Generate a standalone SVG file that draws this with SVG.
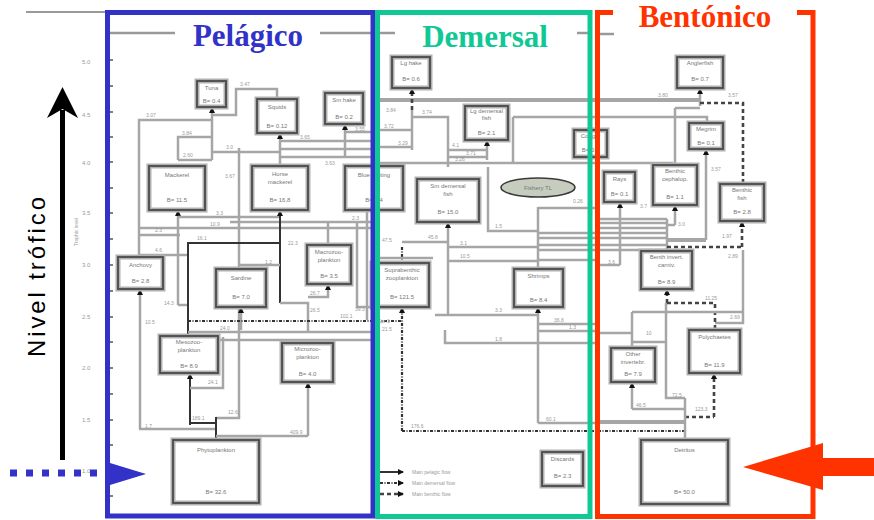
<svg xmlns="http://www.w3.org/2000/svg" width="874" height="520" viewBox="0 0 874 520">
<defs>
<marker id="ah" viewBox="0 0 6 6" refX="5" refY="3" markerWidth="6" markerHeight="6" orient="auto" markerUnits="userSpaceOnUse"><path d="M0,0 L6,3 L0,6 z" fill="#111"/></marker>
<style>
.c{fill:none;stroke:#a6a6a6;stroke-width:2.5}
.cb{fill:none;stroke:#a6a6a6;stroke-width:4}
.k{fill:none;stroke:#333;stroke-width:2}
.d{fill:none;stroke:#444;stroke-width:2.6;stroke-dasharray:4 3}
.dt{fill:none;stroke:#333;stroke-width:2.2;stroke-dasharray:3 1.5 1 1.5}
.lb{font-family:"Liberation Sans",Arial,sans-serif;font-size:5px;fill:#9a9a9a}
.h{fill:#fff;stroke:#b0b0b0;stroke-width:5}
.b{fill:none;stroke:#4a4a4a;stroke-width:1.8}
.t{font-family:"Liberation Sans",Arial,sans-serif;font-size:6px;fill:#777;text-anchor:middle}
.ax{font-family:"Liberation Sans",Arial,sans-serif;font-size:6px;fill:#9a9a9a}
.ttl{font-family:"Liberation Serif","Times New Roman",serif;font-weight:bold;font-size:31px;text-anchor:middle}
</style>
</defs>
<rect width="874" height="520" fill="#fff"/>

<!-- axis -->
<g id="axis">
<line x1="26" y1="12" x2="106" y2="12" stroke="#999" stroke-width="2"/>
<text class="ax" x="82" y="64">5.0</text>
<text class="ax" x="82" y="117">4.5</text>
<text class="ax" x="82" y="165">4.0</text>
<text class="ax" x="82" y="215">3.5</text>
<text class="ax" x="82" y="267">3.0</text>
<text class="ax" x="82" y="319">2.5</text>
<text class="ax" x="82" y="370">2.0</text>
<text class="ax" x="82" y="422">1.5</text>
<text class="ax" x="82" y="473">1.0</text>
<text transform="translate(78,232) rotate(-90)" font-family="Liberation Sans, Arial, sans-serif" font-size="5" fill="#999" text-anchor="middle">Trophic level</text>
<g stroke="#555" stroke-width="1.5">
<line x1="110" y1="60" x2="113" y2="60"/><line x1="110" y1="86" x2="113" y2="86"/><line x1="110" y1="112" x2="113" y2="112"/><line x1="110" y1="137" x2="113" y2="137"/><line x1="110" y1="162" x2="113" y2="162"/><line x1="110" y1="188" x2="113" y2="188"/><line x1="110" y1="213" x2="113" y2="213"/><line x1="110" y1="239" x2="113" y2="239"/><line x1="110" y1="265" x2="113" y2="265"/><line x1="110" y1="291" x2="113" y2="291"/><line x1="110" y1="317" x2="113" y2="317"/><line x1="110" y1="342" x2="113" y2="342"/><line x1="110" y1="368" x2="113" y2="368"/><line x1="110" y1="394" x2="113" y2="394"/><line x1="110" y1="420" x2="113" y2="420"/><line x1="110" y1="445" x2="113" y2="445"/><line x1="110" y1="471" x2="113" y2="471"/><line x1="110" y1="496" x2="113" y2="496"/>
</g>
</g>

<!-- connectors -->
<g id="connectors">
<!-- pelagic -->
<path class="c" d="M139,258 V120 H212"/>
<path class="c" d="M212,160 V108" marker-end="url(#ah)"/>
<path class="c" d="M178,160 V137 H212 M178,160 H212"/>
<path class="c" d="M213,115 H236 V89 H277 V99"/>
<path class="c" d="M213,152 H280"/>
<path class="c" d="M280,165 V134" marker-end="url(#ah)"/>
<path class="c" d="M280,141 H373 M280,149 H373 M280,157 H373"/>
<path class="c" d="M345,157 V125" marker-end="url(#ah)"/>
<path class="c" d="M345,132 H373"/>
<path class="c" d="M239,148 V418 H216"/>
<path class="c" d="M178,305 V211" marker-end="url(#ah)"/>
<path class="c" d="M178,305 H188"/>
<path class="c" d="M178,217 H280"/>
<path class="c" d="M230,222 H373"/>
<path class="c" d="M140,228 H373"/>
<path class="c" d="M140,235 H180"/>
<path class="k" d="M188,336 V243 H280"/>
<path class="k" d="M280,303 V211" marker-end="url(#ah)"/>
<path class="c" d="M140,255 H187"/>
<path class="c" d="M240,265 H280"/>
<path class="c" d="M280,303 H308 V333"/>
<path class="c" d="M328,222 V245"/>
<path class="c" d="M308,297 H328 V285" marker-end="url(#ah)"/>
<path class="c" d="M357,222 V307 H373"/>
<path class="c" d="M367,165 V320"/>
<path class="c" d="M140,429 V290" marker-end="url(#ah)"/>
<path class="c" d="M241,330 V308" marker-end="url(#ah)"/>
<path class="dt" d="M188,321 H402"/>
<path class="c" d="M188,332 H373"/>
<path class="c" d="M216,340 H373"/>
<path class="k" d="M190,425 V374" marker-end="url(#ah)"/>
<path class="k" d="M190,423 H216"/>
<path class="c" d="M190,388 H223 V337"/>
<path class="c" d="M139,429 H216"/>
<path class="k" d="M216,440 V417"/>
<path class="c" d="M216,436 H308"/>
<path class="c" d="M308,436 V383" marker-end="url(#ah)"/>
<!-- demersal -->
<path class="cb" d="M378,100 H700"/>
<path class="c" d="M700,106 V89" marker-end="url(#ah)"/>
<path class="c" d="M412,150 V110"/>
<path class="d" d="M412,110 V89" marker-end="url(#ah)"/>
<path class="c" d="M412,117 H448 V167"/>
<path class="c" d="M378,130 H412 M378,147 H412"/>
<path class="c" d="M448,150 H487 M448,157 H487"/>
<path class="c" d="M487,160 V141" marker-end="url(#ah)"/>
<path class="c" d="M378,163 H600"/>
<path class="c" d="M513,117 H600 M513,117 V163"/>
<path class="c" d="M488,167 V231 H538"/>
<path class="c" d="M538,207 V268"/>
<path class="c" d="M538,208 H600"/>
<path class="c" d="M538,233 H667 M538,238 H667 M538,245 H667 M538,250 H667 M538,260 H600"/>
<path class="dt" d="M402,247 V262"/>
<path class="c" d="M402,242 H448"/>
<path class="c" d="M380,258 H433"/>
<path class="c" d="M448,315 V223" marker-end="url(#ah)"/>
<path class="c" d="M448,247 H538 M448,261 H538"/>
<path class="c" d="M435,315 H538"/>
<path class="c" d="M538,423 V308" marker-end="url(#ah)"/>
<path class="c" d="M538,324 H600 M538,331 H600"/>
<path class="c" d="M445,330 V343 H600"/>
<path class="c" d="M538,423 H600"/>
<path class="dt" d="M402,431 V308" marker-end="url(#ah)"/>
<path class="dt" d="M402,431 H685"/>
<!-- benthic -->
<path class="d" d="M700,103 H743 V184"/>
<path class="c" d="M675,108 H700 M675,108 V165"/>
<path class="c" d="M600,117 H707 V123"/>
<path class="c" d="M706,240 V150" marker-end="url(#ah)"/>
<path class="c" d="M600,163 H673"/>
<path class="c" d="M620,265 V203" marker-end="url(#ah)"/>
<path class="c" d="M600,265 H620"/>
<path class="c" d="M675,225 V206" marker-end="url(#ah)"/>
<path class="c" d="M667,225 H675"/>
<path class="c" d="M600,219 H667 M600,223 H667 M600,228 H667 M667,219 V250"/>
<path class="cb" d="M667,240 H706"/>
<path class="d" d="M742,247 V222" marker-end="url(#ah)"/>
<path class="d" d="M667,247 H742"/>
<path class="c" d="M743,250 V323 H715"/>
<path class="c" d="M666,303 V398 H685"/>
<path class="d" d="M667,303 V290" marker-end="url(#ah)"/>
<path class="d" d="M667,303 H715 V330"/>
<path class="c" d="M632,312 H743"/>
<path class="c" d="M632,312 V348"/>
<path class="c" d="M600,333 H632 M632,342 H666"/>
<path class="c" d="M632,409 V383" marker-end="url(#ah)"/>
<path class="c" d="M632,409 H685"/>
<path class="d" d="M714,417 V374" marker-end="url(#ah)"/>
<path class="d" d="M685,417 H714"/>
<path class="cb" d="M600,422 H685"/>
<path class="c" d="M685,440 V398"/>
<!-- legend -->
<path class="k" d="M380,472 H403" marker-end="url(#ah)"/>
<path class="dt" d="M380,483 H403" marker-end="url(#ah)"/>
<path class="d" d="M380,494 H403" marker-end="url(#ah)"/>
</g>

<!-- flow labels -->
<g id="labels">
<text class="lb" x="146" y="117">3.07</text>
<text class="lb" x="182" y="135">3.84</text>
<text class="lb" x="183" y="157">2.60</text>
<text class="lb" x="240" y="86">3.47</text>
<text class="lb" x="226" y="149">3.0</text>
<text class="lb" x="300" y="139">3.65</text>
<text class="lb" x="325" y="165">3.63</text>
<text class="lb" x="355" y="131">3.55</text>
<text class="lb" x="225" y="178">3.67</text>
<text class="lb" x="216" y="215">3.3</text>
<text class="lb" x="210" y="226">10.9</text>
<text class="lb" x="155" y="232">2.3</text>
<text class="lb" x="352" y="220">2.3</text>
<text class="lb" x="197" y="240">16.1</text>
<text class="lb" x="288" y="245">22.3</text>
<text class="lb" x="155" y="252">4.6</text>
<text class="lb" x="265" y="264">1.2</text>
<text class="lb" x="164" y="305">14.3</text>
<text class="lb" x="310" y="295">26.7</text>
<text class="lb" x="310" y="312">26.5</text>
<text class="lb" x="355" y="311">39.3</text>
<text class="lb" x="340" y="318">102.1</text>
<text class="lb" x="145" y="324">10.5</text>
<text class="lb" x="220" y="330">24.0</text>
<text class="lb" x="208" y="384">24.1</text>
<text class="lb" x="228" y="414">12.6</text>
<text class="lb" x="192" y="420">189.1</text>
<text class="lb" x="145" y="428">1.7</text>
<text class="lb" x="290" y="434">409.9</text>
<text class="lb" x="386" y="112">3.84</text>
<text class="lb" x="422" y="114">3.74</text>
<text class="lb" x="384" y="128">3.72</text>
<text class="lb" x="398" y="145">3.29</text>
<text class="lb" x="452" y="147">4.1</text>
<text class="lb" x="466" y="155">3.71</text>
<text class="lb" x="455" y="161">3.26</text>
<text class="lb" x="573" y="203">0.26</text>
<text class="lb" x="495" y="228">1.5</text>
<text class="lb" x="428" y="239">45.8</text>
<text class="lb" x="382" y="242">47.5</text>
<text class="lb" x="460" y="245">3.1</text>
<text class="lb" x="460" y="258">10.5</text>
<text class="lb" x="495" y="312">3.3</text>
<text class="lb" x="554" y="322">36.8</text>
<text class="lb" x="569" y="329">1.3</text>
<text class="lb" x="378" y="323">Spr.1</text>
<text class="lb" x="382" y="331">21.5</text>
<text class="lb" x="495" y="341">1.8</text>
<text class="lb" x="546" y="421">60.1</text>
<text class="lb" x="411" y="428">176.6</text>
<text class="lb" x="658" y="97">3.80</text>
<text class="lb" x="728" y="97">3.57</text>
<text class="lb" x="711" y="171">3.57</text>
<text class="lb" x="640" y="208">3.7</text>
<text class="lb" x="678" y="226">3.0</text>
<text class="lb" x="722" y="238">1.97</text>
<text class="lb" x="728" y="258">2.89</text>
<text class="lb" x="608" y="264">3.6</text>
<text class="lb" x="705" y="300">11.25</text>
<text class="lb" x="730" y="319">2.69</text>
<text class="lb" x="646" y="335">10</text>
<text class="lb" x="672" y="397">72.5</text>
<text class="lb" x="636" y="407">46.5</text>
<text class="lb" x="695" y="411">123.3</text>
<text class="lb" x="412" y="474">Main pelagic flow</text>
<text class="lb" x="412" y="485">Main demersal flow</text>
<text class="lb" x="412" y="496">Main benthic flow</text>
</g>

<!-- nodes -->
<g id="tuna"><rect class="h" x="197" y="81" width="29" height="26"/><rect class="b" x="197" y="81" width="29" height="26"/><text class="t" x="211.5" y="90">Tuna</text><text class="t" x="211.5" y="103">B= 0.4</text></g>
<g id="squids"><rect class="h" x="257" y="99" width="40" height="34"/><rect class="b" x="257" y="99" width="40" height="34"/><text class="t" x="277" y="109">Squids</text><text class="t" x="277" y="128">B= 0.12</text></g>
<g id="sm-hake"><rect class="h" x="325" y="93" width="38" height="31"/><rect class="b" x="325" y="93" width="38" height="31"/><text class="t" x="344" y="102">Sm hake</text><text class="t" x="344" y="119">B= 0.2</text></g>
<g id="mackerel"><rect class="h" x="149" y="166" width="56" height="44"/><rect class="b" x="149" y="166" width="56" height="44"/><text class="t" x="177" y="177">Mackerel</text><text class="t" x="177" y="202">B= 11.5</text></g>
<g id="horse-mackerel"><rect class="h" x="252" y="166" width="56" height="44"/><rect class="b" x="252" y="166" width="56" height="44"/><text class="t" x="280" y="176">Horse</text><text class="t" x="280" y="184">mackerel</text><text class="t" x="280" y="202">B= 16.8</text></g>
<g id="blue-whiting"><rect class="h" x="345" y="166" width="58" height="44"/><rect class="b" x="345" y="166" width="58" height="44"/><text class="t" x="374" y="177">Blue whiting</text><text class="t" x="374" y="202">B= 4.4</text></g>
<g id="anchovy"><rect class="h" x="118" y="257" width="45" height="32"/><rect class="b" x="118" y="257" width="45" height="32"/><text class="t" x="140.5" y="267">Anchovy</text><text class="t" x="140.5" y="283">B= 2.8</text></g>
<g id="sardine"><rect class="h" x="216" y="269" width="50" height="38"/><rect class="b" x="216" y="269" width="50" height="38"/><text class="t" x="241" y="280">Sardine</text><text class="t" x="241" y="299">B= 7.0</text></g>
<g id="macrozooplankton"><rect class="h" x="307" y="245" width="44" height="39"/><rect class="b" x="307" y="245" width="44" height="39"/><text class="t" x="329" y="254">Macrozoo-</text><text class="t" x="329" y="262">plankton</text><text class="t" x="329" y="278">B= 3.5</text></g>
<g id="mesozooplankton"><rect class="h" x="160" y="336" width="58" height="37"/><rect class="b" x="160" y="336" width="58" height="37"/><text class="t" x="189" y="344">Mesozoo-</text><text class="t" x="189" y="352">plankton</text><text class="t" x="189" y="368">B= 8.9</text></g>
<g id="microzooplankton"><rect class="h" x="282" y="343" width="51" height="39"/><rect class="b" x="282" y="343" width="51" height="39"/><text class="t" x="307.5" y="351">Microzoo-</text><text class="t" x="307.5" y="359">plankton</text><text class="t" x="307.5" y="376">B= 4.0</text></g>
<g id="phytoplankton"><rect class="h" x="173" y="440" width="86" height="63"/><rect class="b" x="173" y="440" width="86" height="63"/><text class="t" x="216" y="452">Phytoplankton</text><text class="t" x="216" y="494">B= 32.6</text></g>
<g id="lg-hake"><rect class="h" x="392" y="57" width="38" height="31"/><rect class="b" x="392" y="57" width="38" height="31"/><text class="t" x="411" y="65">Lg hake</text><text class="t" x="411" y="81">B= 0.6</text></g>
<g id="lg-demersal-fish"><rect class="h" x="465" y="106" width="43" height="34"/><rect class="b" x="465" y="106" width="43" height="34"/><text class="t" x="486.5" y="113">Lg demersal</text><text class="t" x="486.5" y="120">fish</text><text class="t" x="486.5" y="135">B= 2.1</text></g>
<g id="conger"><rect class="h" x="574" y="130" width="33" height="27"/><rect class="b" x="574" y="130" width="33" height="27"/><text class="t" x="590.5" y="138">Conger</text><text class="t" x="590.5" y="152">B= 0.2</text></g>
<g id="sm-demersal-fish"><rect class="h" x="417" y="179" width="62" height="43"/><rect class="b" x="417" y="179" width="62" height="43"/><text class="t" x="448" y="188">Sm demersal</text><text class="t" x="448" y="196">fish</text><text class="t" x="448" y="214">B= 15.0</text></g>
<g id="fishery-tl"><ellipse cx="538" cy="187.5" rx="37" ry="9.5" fill="#c6cdbf" stroke="#3a3a3a" stroke-width="1.6"/><text class="t" x="538" y="190" font-size="7" fill="#555">Fishery TL</text></g>
<g id="suprabenthic-zooplankton"><rect class="h" x="372" y="263" width="57" height="44"/><rect class="b" x="372" y="263" width="57" height="44"/><text class="t" x="402" y="272">Suprabenthic</text><text class="t" x="402" y="280">zooplankton</text><text class="t" x="402" y="299">B= 121.5</text></g>
<g id="shrimps"><rect class="h" x="514" y="269" width="49" height="38"/><rect class="b" x="514" y="269" width="49" height="38"/><text class="t" x="538.5" y="278">Shrimps</text><text class="t" x="538.5" y="302">B= 8.4</text></g>
<g id="discards"><rect class="h" x="542" y="452" width="41" height="34"/><rect class="b" x="542" y="452" width="41" height="34"/><text class="t" x="562.5" y="461">Discards</text><text class="t" x="562.5" y="478">B= 2.3</text></g>
<g id="anglerfish"><rect class="h" x="677" y="57" width="46" height="31"/><rect class="b" x="677" y="57" width="46" height="31"/><text class="t" x="700" y="65">Anglerfish</text><text class="t" x="700" y="81">B= 0.7</text></g>
<g id="megrim"><rect class="h" x="689" y="123" width="34" height="26"/><rect class="b" x="689" y="123" width="34" height="26"/><text class="t" x="706" y="131">Megrim</text><text class="t" x="706" y="145">B= 0.1</text></g>
<g id="rays"><rect class="h" x="604" y="172" width="31" height="30"/><rect class="b" x="604" y="172" width="31" height="30"/><text class="t" x="619.5" y="181">Rays</text><text class="t" x="619.5" y="196">B= 0.1</text></g>
<g id="benthic-cephalopods"><rect class="h" x="653" y="165" width="44" height="40"/><rect class="b" x="653" y="165" width="44" height="40"/><text class="t" x="675" y="173">Benthic</text><text class="t" x="675" y="181">cephalop.</text><text class="t" x="675" y="199">B= 1.1</text></g>
<g id="benthic-fish"><rect class="h" x="720" y="184" width="44" height="37"/><rect class="b" x="720" y="184" width="44" height="37"/><text class="t" x="742" y="192">Benthic</text><text class="t" x="742" y="200">fish</text><text class="t" x="742" y="214">B= 2.8</text></g>
<g id="benth-invert-carniv"><rect class="h" x="641" y="251" width="51" height="38"/><rect class="b" x="641" y="251" width="51" height="38"/><text class="t" x="666.5" y="259">Benth invert.</text><text class="t" x="666.5" y="267">carniv.</text><text class="t" x="666.5" y="284">B= 8.9</text></g>
<g id="polychaetes"><rect class="h" x="689" y="330" width="51" height="43"/><rect class="b" x="689" y="330" width="51" height="43"/><text class="t" x="714.5" y="339">Polychaetes</text><text class="t" x="714.5" y="367">B= 11.9</text></g>
<g id="other-invertebrates"><rect class="h" x="611" y="348" width="44" height="34"/><rect class="b" x="611" y="348" width="44" height="34"/><text class="t" x="633" y="356">Other</text><text class="t" x="633" y="364">invertebr.</text><text class="t" x="633" y="376">B= 7.9</text></g>
<g id="detritus"><rect class="h" x="641" y="440" width="87" height="64"/><rect class="b" x="641" y="440" width="87" height="64"/><text class="t" x="684.5" y="452">Detritus</text><text class="t" x="684.5" y="494">B= 50.0</text></g>

<!-- overlay frames and titles -->
<g id="frames" fill="none">
<line x1="110" y1="33" x2="175" y2="33" stroke="#999" stroke-width="2.5"/>
<line x1="320" y1="33" x2="372" y2="33" stroke="#999" stroke-width="2.5"/>
<line x1="380" y1="33" x2="395" y2="33" stroke="#999" stroke-width="2.5"/>
<line x1="577" y1="33" x2="588" y2="33" stroke="#999" stroke-width="2.5"/>
<line x1="600" y1="34" x2="614" y2="34" stroke="#999" stroke-width="2.5"/>
<rect x="107.5" y="12.5" width="265.5" height="503.5" stroke="#3232c8" stroke-width="5"/>
<rect x="377.5" y="12.5" width="212.5" height="504" stroke="#10c896" stroke-width="5"/>
<path d="M613,12.5 H597.5 V516.5 H813 V12.5 H797" stroke="#ff3300" stroke-width="5"/>
</g>
<text class="ttl" x="248" y="46" fill="#3232c8">Pelágico</text>
<text class="ttl" x="485" y="47" fill="#10c896">Demersal</text>
<text class="ttl" x="705" y="27" fill="#ff3300" font-size="30">Bentónico</text>

<!-- trophic level arrow -->
<g id="trophic-arrow">
<rect x="60" y="110" width="5" height="350" fill="#000"/>
<polygon points="62.5,87 78,118 62.5,109 47,118" fill="#000"/>
<text transform="translate(45,277) rotate(-90)" font-family="Liberation Sans, Arial, sans-serif" font-size="24" fill="#000" text-anchor="middle" textLength="160" lengthAdjust="spacing">Nivel  trófico</text>
</g>
<g id="pelagic-input">
<line x1="10" y1="473" x2="97" y2="473" stroke="#3232c8" stroke-width="7" stroke-dasharray="7 9"/>
<polygon points="110,463 146,474 110,485" fill="#3232c8"/>
</g>
<g id="benthic-input">
<polygon points="743,467 823,443 823,458 874,458 874,476 823,476 823,490" fill="#ff3300"/>
</g>
</svg>
